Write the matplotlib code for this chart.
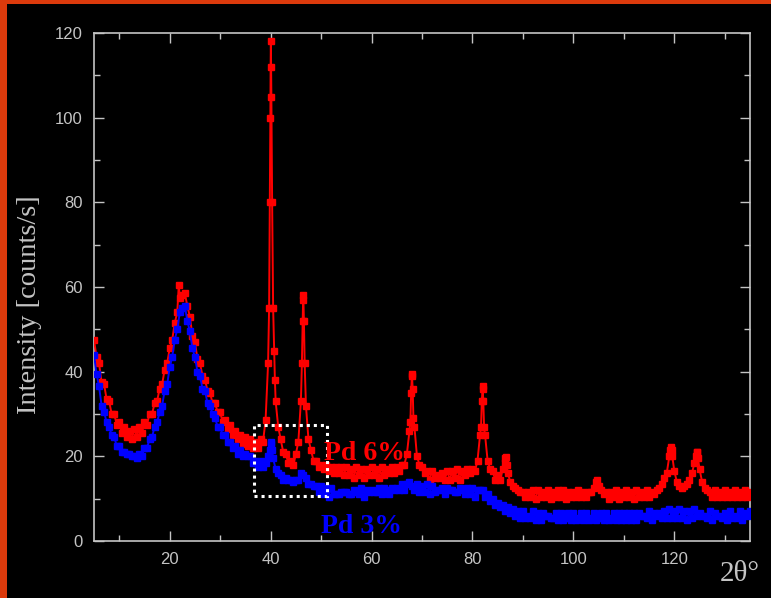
import numpy as np
import matplotlib
matplotlib.use("Agg")
import matplotlib.pyplot as plt
from matplotlib.patches import Rectangle
from matplotlib.ticker import MultipleLocator

# 2-theta sampling grid (0.5 degree steps) for the measured scans
two_theta = np.arange(5.0, 135.01, 0.5)

# Pd 6 % scan, counts/s on the 0.5 degree grid
pd6_counts = [
    47.5, 43.5, 42, 37.5, 37, 33.5, 33, 30, 30, 27.5,
    28, 25.5, 27, 24.5, 26, 24, 26.5, 24.5, 27, 25.5,
    28, 27.5, 30, 30, 32.5, 33, 36, 37, 40.5, 42,
    45.5, 47.5, 51.5, 54, 57.5, 58, 58.5, 55.5, 53, 48.5,
    47, 43, 42, 39, 38, 35.5, 35, 32.5, 32.5, 30.5,
    30.5, 28, 28.5, 26.5, 27.5, 25, 26, 24, 25, 23,
    24.5, 22.5, 24, 22, 23.5, 22, 24, 23.5, 28.5, 42,
    112, 55, 33, 27, 24, 21, 20.5, 18.5, 19, 18,
    20.5, 23.5, 33, 57, 32, 24, 21.5, 19, 19, 17.5,
    18, 17, 18, 16.5, 17.5, 16, 17.5, 16, 17.5, 15.5,
    17.5, 15.5, 17, 15, 17.5, 15.5, 17, 15, 17, 15.5,
    17.5, 15.5, 17, 15, 17.5, 15.5, 17, 16, 17.5, 16,
    17.5, 16.5, 18, 18, 20.5, 26, 39, 27, 20, 18,
    17.5, 16, 16.5, 14.5, 16.5, 15, 15.5, 15, 16, 14.5,
    16.5, 14.5, 16.5, 15, 17, 14.5, 16.5, 15.5, 17, 16,
    17, 16.5, 19, 25, 36, 25, 19, 17, 16.5, 14.5,
    15.5, 14.5, 17, 19.5, 16, 14, 13, 12.5, 12, 11.5,
    11.5, 10.5, 11.5, 10.5, 12, 10, 12, 10.5, 11.5, 10.5,
    12, 10, 11.5, 10.5, 12, 10.5, 12, 10, 11.5, 10.5,
    11.5, 10.5, 12, 10.5, 11.5, 10.5, 11.5, 11.5, 12.5, 14,
    13, 12, 11, 11.5, 10, 11.5, 10.5, 12, 10, 11.5,
    10.5, 12, 10.5, 11.5, 10, 12, 10.5, 11.5, 10.5, 12,
    10.5, 11.5, 11, 12, 12.5, 13.5, 15, 16, 20, 21.5,
    16.5, 14, 13, 12.5, 13, 13.5, 14.5, 16, 18.5, 21,
    17, 14, 12.5, 12, 11.5, 10.5, 12, 10.5, 11.5, 10.5,
    12, 10.5, 11.5, 10.5, 12, 10.5, 11.5, 10.5, 12, 10.5, 11.5,
]

# extra Pd 6 % points recorded across the sharp reflections
pd6_peak_theta = [21.8,
                  39.7, 39.85, 39.95, 40.05, 40.15, 40.3, 40.7, 40.85,
                  46.2, 46.35, 46.45, 46.6, 46.75,
                  67.7, 67.85, 68.0, 68.15, 68.3,
                  81.7, 81.85, 82.0, 82.15, 82.3,
                  86.4, 86.6, 86.8, 104.6,
                  119.2, 119.4, 119.6, 124.3, 124.5, 124.7]
pd6_peak_counts = [60.5,
                   55, 80, 100, 118, 105, 80, 45, 38,
                   42, 52, 58, 52, 42,
                   28, 35, 39.5, 36, 29,
                   27, 33, 36.5, 33, 27,
                   18.5, 19.8, 18, 14.3,
                   21.5, 22.3, 20, 20, 21, 19.5]

# Pd 3 % scan, counts/s on the 0.5 degree grid
pd3_counts = [
    44, 39.5, 36.5, 32, 30.5, 28, 27, 25, 24.5, 22.5,
    22.5, 21, 21, 20.5, 20.5, 20, 20, 19.5, 20.5, 20,
    22, 22, 24, 24.5, 27, 28, 30.5, 32, 35.5, 37,
    41, 43.5, 47.5, 50, 54, 55, 55.5, 52, 49.5, 45.5,
    43.5, 40, 39, 36, 35.5, 32.5, 32, 30, 29, 27,
    27, 25, 25, 23.5, 23.5, 22, 22.5, 20.5, 21.5, 20,
    20.5, 20, 20, 18.5, 19, 17.5, 19, 17.5, 18.5, 20,
    23, 19.5, 17, 16, 15.5, 14.5, 15, 14.5, 14.5, 14,
    14.5, 14.5, 16, 15.5, 15, 13.5, 13.5, 13, 13, 11.5,
    13, 11, 12.5, 10.5, 12.5, 11, 11, 11, 11.5, 11.5,
    11.5, 11, 11, 12, 11.5, 11, 12.5, 10.5, 12, 11.5,
    12, 11.5, 11.5, 12.5, 11, 12.5, 12, 11, 12.5, 12,
    12.5, 12, 13.5, 12, 13.5, 14, 13, 12, 13.5, 11.5,
    13, 11.5, 13.5, 11, 13, 11.5, 12, 12, 12.5, 11,
    12.5, 12, 12, 11.5, 11.5, 12.5, 12, 11, 12.5, 11,
    12.5, 10.5, 12, 12, 12, 10.5, 11, 9.5, 10, 8.5,
    9, 8, 8.5, 7, 8, 6.5, 7.5, 6, 7, 5.5,
    7, 5.5, 6, 5.5, 7, 5, 6.5, 5, 6.5, 6,
    6, 5.5, 5.5, 6.5, 5, 6.5, 5, 5.5, 6.5, 5,
    6.5, 5, 5.5, 6.5, 5, 6.5, 5, 5.5, 6.5, 5,
    5.5, 6.5, 5, 6.5, 5, 5.5, 6.5, 5, 6.5, 5,
    6.5, 5, 6.5, 5, 6.5, 5, 6.5, 6, 6, 5.5,
    7, 5, 6.5, 6, 6.5, 5.5, 7, 5.5, 7.5, 5.5,
    7, 5.5, 7.5, 5.5, 7, 5, 7, 5.5, 7.5, 6,
    6.5, 6, 6, 5.5, 7, 5, 6.5, 6, 6, 5.5,
    6.5, 5, 7, 5.5, 6, 5.5, 7, 5, 6.5, 6, 7,
]

pd3_peak_theta = [39.8, 40.1, 40.3]
pd3_peak_counts = [21.5, 23.5, 21.5]

xticks_major = [20, 40, 60, 80, 100, 120]
yticks_major = [0, 20, 40, 60, 80, 100, 120]


def merged(base_x, base_y, extra_x, extra_y):
    x = np.concatenate([base_x, extra_x])
    y = np.concatenate([np.asarray(base_y, float), np.asarray(extra_y, float)])
    order = np.argsort(x, kind="stable")
    return x[order], y[order]


x6, y6 = merged(two_theta, pd6_counts, pd6_peak_theta, pd6_peak_counts)
x3, y3 = merged(two_theta, pd3_counts, pd3_peak_theta, pd3_peak_counts)

grey = "#c4c4c4"
fig = plt.figure(figsize=(7.71, 5.98), dpi=100, facecolor="black")

# orange frame strips along the left and top edges
fig.patches.append(Rectangle((0, 0), 7 / 771, 1, transform=fig.transFigure,
                             facecolor="#dc3a0c", edgecolor="none", zorder=0))
fig.patches.append(Rectangle((0, 1 - 4 / 598), 1, 4 / 598, transform=fig.transFigure,
                             facecolor="#dc3a0c", edgecolor="none", zorder=0))

ax = fig.add_axes([94 / 771, 57 / 598, 656 / 771, 508 / 598])
ax.set_facecolor("black")

ax.plot(x6, y6, color="#ff0000", lw=1.4, marker="s", ms=4.0, mec="#ff0000",
        mfc="#ff0000", zorder=3)
ax.plot(x3, y3, color="#0000ff", lw=1.4, marker="s", ms=4.0, mec="#0000ff",
        mfc="#0000ff", zorder=4)

# dotted box around the 40-50 degree region
ax.add_patch(Rectangle((36.8, 10.6), 14.3, 16.8, fill=False, edgecolor="white",
                       lw=2.2, linestyle=(0, (1, 1.3)), zorder=5))

serif = ["Liberation Serif", "DejaVu Serif"]
ax.text(50.5, 19.2, "Pd 6%", color="#ff0000", fontsize=20, fontweight="bold",
        family=serif, ha="left", va="baseline", zorder=6)
ax.text(50.0, 2.0, "Pd 3%", color="#0000ff", fontsize=20, fontweight="bold",
        family=serif, ha="left", va="baseline", zorder=6)

ax.set_xlim(5, 135)
ax.set_ylim(0, 120)
ax.set_xticks(xticks_major)
ax.set_yticks(yticks_major)
ax.xaxis.set_minor_locator(MultipleLocator(10))
ax.yaxis.set_minor_locator(MultipleLocator(10))

for sp in ax.spines.values():
    sp.set_color(grey)
    sp.set_linewidth(1.2)

ax.tick_params(which="both", direction="in", top=True, right=True, colors=grey,
               width=1.0)
ax.tick_params(which="major", length=7, labelsize=12, pad=8, labelcolor=grey)
ax.tick_params(which="minor", length=4)
for lab in ax.get_xticklabels() + ax.get_yticklabels():
    lab.set_family(["Liberation Sans", "DejaVu Sans"])

fig.text(30 / 771, 1 - 305 / 598, "Intensity [counts/s]", color=grey,
         fontsize=20.5, family=serif, rotation=90, ha="center", va="center")
fig.text(0.985, 0.028, "2θ°", color=grey, fontsize=21, family=serif,
         ha="right", va="baseline")

fig.savefig("out.png", dpi=100, facecolor="black")
